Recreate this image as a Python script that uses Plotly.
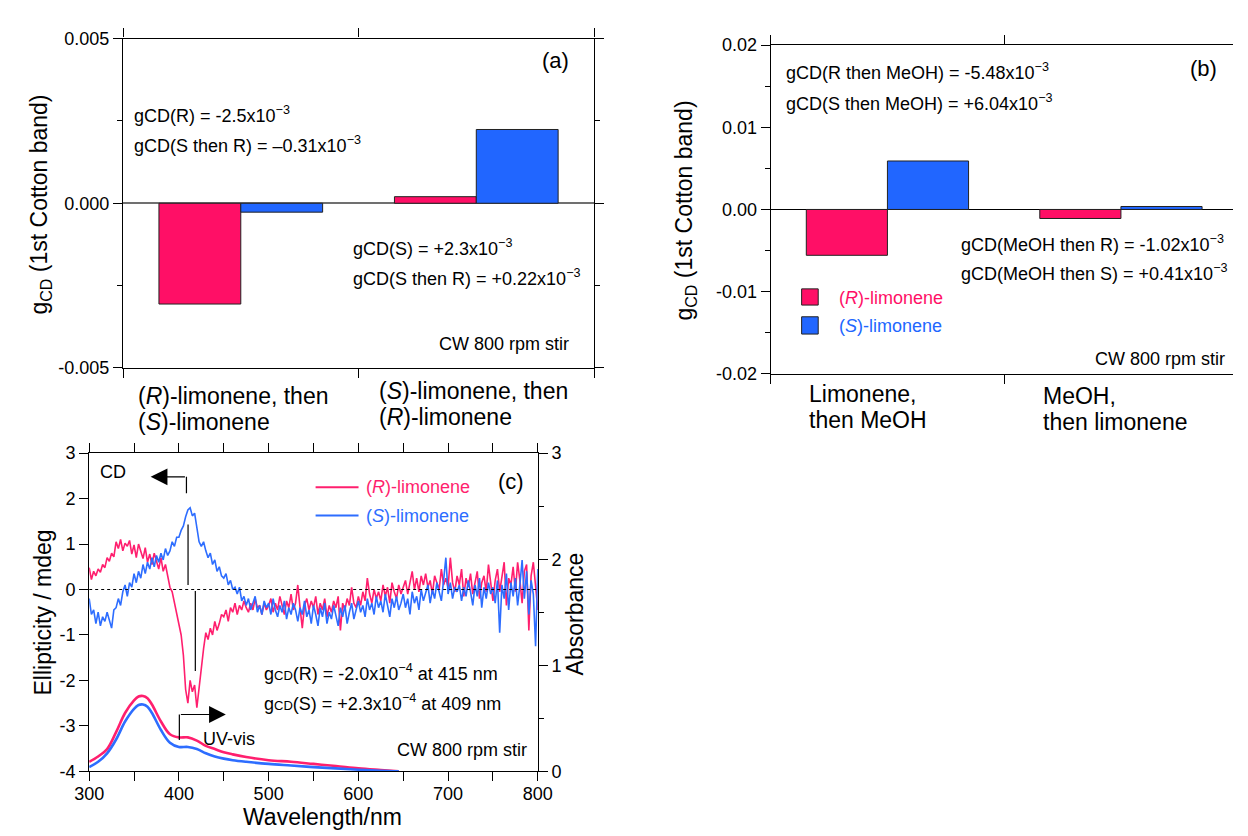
import plotly.graph_objects as go

FONT = "Arial, 'Liberation Sans', Helvetica, sans-serif"
RED = "#FF0F66"
BLUE = "#2166FF"
RED_LINE = "#FF1F6E"
BLUE_LINE = "#2D6DFF"
W, H = 1248, 836

# ---------------- Panel (a) data ----------------
cats_a = ["(<i>R</i>)-limonene, then<br>(<i>S</i>)-limonene",
          "(<i>S</i>)-limonene, then<br>(<i>R</i>)-limonene"]
gcd_a_R = [-0.00306, 0.00020]
gcd_a_S = [-0.00027, 0.00224]
yticks_a = [-0.005, 0.0, 0.005]
yticktext_a = ["-0.005", "0.000", "0.005"]

# ---------------- Panel (b) data ----------------
cats_b = ["Limonene,<br>then MeOH", "MeOH,<br>then limonene"]
gcd_b_R = [-0.00558, -0.00110]
gcd_b_S = [0.00590, 0.00036]
yticks_b = [-0.02, -0.01, 0.0, 0.01, 0.02]
yticktext_b = ["-0.02", "-0.01", "0.00", "0.01", "0.02"]

# ---------------- Panel (c) data ----------------
wl_cd = [300 + 2.5 * i for i in range(201)]
cd_R = [
    0.48, 0.22, 0.40, 0.30, 0.45, 0.38, 0.55, 0.48, 0.70, 0.62,
    0.80, 0.72, 1.05, 0.90, 1.10, 0.85, 1.02, 0.95, 1.08, 0.78,
    0.98, 0.70, 1.00, 0.82, 0.68, 0.92, 0.60, 0.78, 0.55, 0.80,
    0.62, 0.45, 0.70, 0.40, 0.55, 0.30, 0.05, -0.05, -0.30, -0.50,
    -0.75, -1.00, -1.45, -2.20, -2.50, -2.00, -2.25, -2.10, -2.60, -2.15,
    -1.70, -1.30, -0.95, -1.10, -0.85, -1.00, -0.70, -0.90, -0.75, -0.55,
    -0.60, -0.45, -0.70, -0.40, -0.50, -0.30, -0.55, -0.35, -0.45, -0.25,
    -0.40, -0.50, -0.30, -0.45, -0.20, -0.40, -0.35, -0.55, -0.30, -0.45,
    -0.35, -0.20, -0.50, -0.30, -0.45, -0.15, -0.35, -0.55, -0.25, -0.40,
    -0.10, -0.45, -0.30, 0.10, -0.40, -0.85, -0.35, -0.20, -0.45, -0.25,
    -0.40, -0.15, -0.55, -0.30, -0.45, -0.20, -0.60, -0.35, -0.50, -0.25,
    -0.40, -0.15, -0.90, -0.30, -0.45, -0.20, -0.35, 0.05, -0.30, -0.40,
    -0.15, -0.35, -0.05, -0.25, 0.25, -0.10, -0.30, 0.00, -0.20, -0.05,
    -0.25, 0.10, -0.15, 0.05, -0.30, 0.15, -0.05, -0.20, 0.10, -0.10,
    0.05, 0.20, -0.10, 0.15, 0.40, 0.00, 0.25, -0.05, 0.30, 0.10,
    0.35, 0.05, 0.20, -0.10, 0.30, 0.15, 0.00, 0.45, 0.10, 0.25,
    0.05, 0.70, 0.15, -0.05, 0.30, 0.10, 0.45, -0.15, 0.25, 0.05,
    0.35, -0.10, 0.20, 0.40, -0.20, 0.15, 0.30, -0.05, 0.55, 0.10,
    -0.25, 0.20, 0.45, -0.05, 0.30, 0.60, -0.35, 0.25, 0.10, 0.50,
    -0.05, 0.60, 0.20, -0.30, 0.40, 0.55, -0.90, 0.30, 0.60, 0.00,
    -0.45,
]
cd_S = [
    -0.20, -0.55, -0.45, -0.75, -0.50, -0.80, -0.60, -0.70, -0.50, -0.65,
    -0.85, -0.45, -0.40, -0.20, -0.35, -0.05, 0.10, -0.15, 0.15, 0.05,
    0.35, 0.15, 0.40, 0.25, 0.55, 0.35, 0.60, 0.45, 0.70, 0.50,
    0.75, 0.60, 0.80, 0.65, 0.90, 0.75, 0.85, 1.05, 0.95, 1.15,
    1.15, 1.30, 1.40, 1.60, 1.75, 1.80, 1.62, 1.68, 1.35, 1.05,
    0.95, 1.05, 0.85, 0.70, 0.80, 0.55, 0.65, 0.40, 0.50, 0.30,
    0.25, 0.35, 0.10, 0.20, 0.00, 0.05, -0.10, 0.05, -0.25, -0.15,
    -0.35, -0.20, -0.45, -0.30, -0.15, -0.50, -0.35, -0.55, -0.25, -0.40,
    -0.30, -0.55, -0.20, -0.45, -0.60, -0.35, -0.50, -0.25, -0.65, -0.40,
    -0.55, -0.30, -0.45, -0.70, -0.40, -0.55, -0.25, -0.60, -0.45, -0.75,
    -0.35, -0.55, -0.80, -0.40, -0.60, -0.30, -0.75, -0.50, -0.65, -0.35,
    -0.55, -0.80, -0.40, -0.60, -0.35, -0.75, -0.50, -0.30, -0.65, -0.45,
    -0.25, -0.50, -0.35, -0.60, -0.20, -0.45, -0.30, -0.55, -0.15, -0.40,
    -0.25, -0.50, -0.10, -0.35, -0.60, -0.20, -0.40, -0.15, -0.45, -0.30,
    -0.10, -0.40, -0.20, -0.55, -0.05, -0.30, -0.15, -0.45, 0.00, -0.25,
    -0.10, 0.10, -0.30, 0.00, -0.20, 0.15, -0.05, -0.25, 0.20, 0.70,
    -0.10, 0.15, -0.20, 0.05, -0.05, 0.10, -0.25, 0.05, -0.15, 0.20,
    -0.05, -0.35, 0.10, -0.15, 0.25, -0.40, 0.05, -0.20, 0.15, -0.10,
    0.05, -0.30, 0.20, -0.95, 0.10, -0.20, 0.35, -0.45, 0.15, -0.15,
    0.25, -0.35, 0.10, 0.65, -0.20, 0.40, -0.55, 0.20, -0.10, -1.25,
    0.45,
]
wl_abs = [300, 310, 320, 330, 340, 350, 355, 360, 365, 370, 380, 390, 400, 410,
          420, 430, 440, 450, 460, 475, 500, 525, 550, 575, 600, 625, 645]
abs_R = [0.09, 0.14, 0.21, 0.37, 0.55, 0.67, 0.705, 0.71, 0.69, 0.63, 0.47, 0.35, 0.32, 0.32,
         0.29, 0.24, 0.21, 0.18, 0.16, 0.135, 0.105, 0.09, 0.07, 0.05, 0.028, 0.012, 0.0]
abs_S = [0.04, 0.09, 0.17, 0.30, 0.47, 0.59, 0.625, 0.63, 0.61, 0.55, 0.39, 0.27, 0.23, 0.23,
         0.21, 0.17, 0.14, 0.12, 0.105, 0.09, 0.07, 0.055, 0.04, 0.028, 0.015, 0.005, 0.0]
ell_ticks = [-4, -3, -2, -1, 0, 1, 2, 3]
ell_ticktext = ["-4", "-3", "-2", "-1", "0", "1", "2", "3"]


def px(x):
    return x / W


def py(y):
    return 1 - y / H


AX = dict(showline=True, linecolor="black", linewidth=1.2, ticks="outside",
          ticklen=9, tickwidth=1.2, tickcolor="black", showgrid=False,
          zeroline=False, tickfont=dict(size=18, family=FONT, color="black"))
MINOR = dict(ticks="outside", ticklen=5, tickwidth=1.2, tickcolor="black", showgrid=False)

fig = go.Figure()

fig.add_trace(go.Bar(x=[0, 1], y=gcd_a_R, marker=dict(color=RED, line=dict(color="#222", width=1)),
                     xaxis="x", yaxis="y", name="(R)-limonene"))
fig.add_trace(go.Bar(x=[0, 1], y=gcd_a_S, marker=dict(color=BLUE, line=dict(color="#222", width=1)),
                     xaxis="x", yaxis="y", name="(S)-limonene"))
fig.add_trace(go.Bar(x=[0, 1], y=gcd_b_R, marker=dict(color=RED, line=dict(color="#222", width=1)),
                     xaxis="x2", yaxis="y2", name="(R)-limonene"))
fig.add_trace(go.Bar(x=[0, 1], y=gcd_b_S, marker=dict(color=BLUE, line=dict(color="#222", width=1)),
                     xaxis="x2", yaxis="y2", name="(S)-limonene"))
fig.add_trace(go.Scatter(x=wl_cd, y=cd_R, mode="lines", line=dict(color=RED_LINE, width=1.6),
                         xaxis="x3", yaxis="y3", name="(R)-limonene CD"))
fig.add_trace(go.Scatter(x=wl_cd, y=cd_S, mode="lines", line=dict(color=BLUE_LINE, width=1.6),
                         xaxis="x3", yaxis="y3", name="(S)-limonene CD"))
fig.add_trace(go.Scatter(x=wl_abs, y=abs_R, mode="lines", line=dict(color=RED_LINE, width=2.6, shape="spline"),
                         xaxis="x3", yaxis="y4", name="(R)-limonene abs"))
fig.add_trace(go.Scatter(x=wl_abs, y=abs_S, mode="lines", line=dict(color=BLUE_LINE, width=2.6, shape="spline"),
                         xaxis="x3", yaxis="y4", name="(S)-limonene abs"))

fig.update_layout(
    width=W, height=H, margin=dict(l=0, r=0, t=0, b=0), showlegend=False,
    plot_bgcolor="white", paper_bgcolor="white",
    barmode="group", bargap=0.305, bargroupgap=0,
    font=dict(family=FONT, size=18, color="black"),
    xaxis=dict(AX, domain=[px(110.7), px(593.3)], range=[-0.5, 1.5], anchor="y",
               tickvals=[-0.5, 0.5, 1.5], showticklabels=False, mirror="allticks"),
    yaxis=dict(AX, domain=[py(366.7), py(29.3)], range=[-0.005, 0.005], anchor="x",
               tickvals=yticks_a, ticktext=yticktext_a, mirror="allticks",
               zeroline=True, zerolinecolor="#707070", zerolinewidth=1.5,
               minor=dict(MINOR, dtick=0.0025, tick0=0)),
    xaxis2=dict(AX, domain=[px(774.3), 1.0], range=[-0.5, 1.48], anchor="y2",
                tickvals=[-0.5, 0.5, 1.5], showticklabels=False, mirror="allticks"),
    yaxis2=dict(AX, domain=[py(372.7), py(36)], range=[-0.02, 0.02], anchor="x2",
                tickvals=yticks_b, ticktext=yticktext_b, mirror=False,
                zeroline=True, zerolinecolor="black", zerolinewidth=1.2,
                minor=dict(MINOR, dtick=0.005, tick0=0)),
    xaxis3=dict(AX, domain=[px(76), px(535.7)], range=[300, 800], anchor="y3",
                dtick=100, tick0=300, mirror="allticks", ticklabelstandoff=-3,
                minor=dict(MINOR, dtick=50, tick0=300)),
    yaxis3=dict(AX, domain=[py(780), py(454)], range=[-4, 3], anchor="x3",
                tickvals=ell_ticks, ticktext=ell_ticktext, mirror=False),
    yaxis4=dict(AX, range=[0, 3], anchor="x3", overlaying="y3", side="right",
                dtick=1, tick0=0, minor=dict(MINOR, dtick=0.5, tick0=0)),
)

ann = []


def text(t, x, y, size=18, xanchor="left", color="black", **kw):
    ann.append(dict(text=t, x=px(x), y=py(y), xref="paper", yref="paper",
                    xanchor=xanchor, yanchor="middle", showarrow=False,
                    font=dict(size=size, family=FONT, color=color), **kw))


# axis titles
text("g<sub>CD</sub> (1st Cotton band)", 26, 199, size=23, xanchor="center", textangle=-90)
text("g<sub>CD</sub> (1st Cotton band)", 687, 205, size=23, xanchor="center", textangle=-90)
text("Ellipticity / mdeg", 29, 617, size=23, xanchor="center", textangle=-90)
text("Absorbance", 574, 619, size=23, xanchor="center", textangle=-90)
text("Wavelength/nm", 315, 827, size=23, xanchor="center")

# category labels, one annotation per line (tight line spacing as in the original)
lab_y_a = [[395, 422], [390, 417]]
for i, lab in enumerate(cats_a):
    for j, line in enumerate(lab.split("<br>")):
        ann.append(dict(text=line, x=i, xref="x", y=py(lab_y_a[i][j]), yref="paper",
                        xanchor="left", xshift=[-105, -99][i], yanchor="middle",
                        showarrow=False, font=dict(size=23, family=FONT, color="black")))
lab_y_b = [[393, 420], [395, 422]]
for i, lab in enumerate(cats_b):
    for j, line in enumerate(lab.split("<br>")):
        ann.append(dict(text=line, x=i, xref="x2", y=py(lab_y_b[i][j]), yref="paper",
                        xanchor="left", xshift=-80, yanchor="middle",
                        showarrow=False, font=dict(size=23, family=FONT, color="black")))

text("(a)", 554, 52, size=22, xanchor="center")
text("gCD(R) = -2.5x10<sup>\u22123</sup>", 120, 107)
text("gCD(S then R) = \u20130.31x10<sup>\u22123</sup>", 120, 138)
text("gCD(S) = +2.3x10<sup>\u22123</sup>", 344, 243)
text("gCD(S then R) = +0.22x10<sup>\u22123</sup>", 344, 274)
text("CW 800 rpm stir", 570, 342, xanchor="right")

text("(b)", 1218, 60, size=22, xanchor="center")
text("gCD(R then MeOH) = -5.48x10<sup>\u22123</sup>", 788, 63)
text("gCD(S then MeOH) = +6.04x10<sup>\u22123</sup>", 788, 95)
text("gCD(MeOH then R) = -1.02x10<sup>\u22123</sup>", 967, 239)
text("gCD(MeOH then S) = +0.41x10<sup>\u22123</sup>", 967, 269)
text("CW 800 rpm stir", 1242, 358, xanchor="right")
text("(<i>R</i>)-limonene", 842, 295, color=RED)
text("(<i>S</i>)-limonene", 842, 324, color=BLUE)

text("(c)", 508, 483, size=22, xanchor="center")
text("CD", 100, 473, xanchor="center")
text("UV-vis", 219, 747, xanchor="center")
text("g<span style='font-size:13px'>CD</span>(R) = -2.0x10<sup>\u22124</sup> at 415 nm", 253, 679)
text("g<span style='font-size:13px'>CD</span>(S) = +2.3x10<sup>\u22124</sup> at 409 nm", 253, 709)
text("CW 800 rpm stir", 527, 758, xanchor="right")
text("(<i>R</i>)-limonene", 358, 489, color=RED_LINE)
text("(<i>S</i>)-limonene", 358, 518, color=BLUE_LINE)

ann.append(dict(x=368.5, y=2.48, xref="x3", yref="y3", ax=408.4, ay=2.48, axref="x3", ayref="y3",
                text="", showarrow=True, arrowhead=2, arrowsize=2.8, arrowwidth=1.2, arrowcolor="black"))
ann.append(dict(x=452.3, y=-2.75, xref="x3", yref="y3", ax=400.5, ay=-2.75, axref="x3", ayref="y3",
                text="", showarrow=True, arrowhead=2, arrowsize=2.8, arrowwidth=1.2, arrowcolor="black"))

shapes = [
    dict(type="line", xref="x3", yref="y3", x0=300, x1=800, y0=0, y1=0,
         line=dict(color="black", width=1.2, dash="dot")),
    dict(type="line", xref="x3", yref="y3", x0=408.4, x1=408.4, y0=2.48, y1=2.12,
         line=dict(color="black", width=1.2)),
    dict(type="line", xref="x3", yref="y3", x0=410.2, x1=410.2, y0=1.43, y1=0.1,
         line=dict(color="black", width=1.2)),
    dict(type="line", xref="x3", yref="y3", x0=418.3, x1=418.3, y0=-0.03, y1=-1.79,
         line=dict(color="black", width=1.2)),
    dict(type="line", xref="x3", yref="y3", x0=400.5, x1=400.5, y0=-3.31, y1=-2.75,
         line=dict(color="black", width=1.2)),
    dict(type="line", xref="paper", yref="paper", x0=px(308), x1=px(352), y0=py(489), y1=py(489),
         line=dict(color=RED_LINE, width=2)),
    dict(type="line", xref="paper", yref="paper", x0=px(308), x1=px(352), y0=py(518), y1=py(518),
         line=dict(color=BLUE_LINE, width=2)),
    dict(type="rect", xref="paper", yref="paper", x0=px(806), x1=px(823), y0=py(302.3), y1=py(285.7),
         fillcolor=RED, line=dict(color="#222", width=1)),
    dict(type="rect", xref="paper", yref="paper", x0=px(806), x1=px(823), y0=py(332), y1=py(314.3),
         fillcolor=BLUE, line=dict(color="#222", width=1)),
]

fig.update_layout(annotations=ann, shapes=shapes)

fig.write_html("out.html", config={"displayModeBar": False},
               post_script="document.body.style.margin='0';document.body.style.overflow='hidden';")
